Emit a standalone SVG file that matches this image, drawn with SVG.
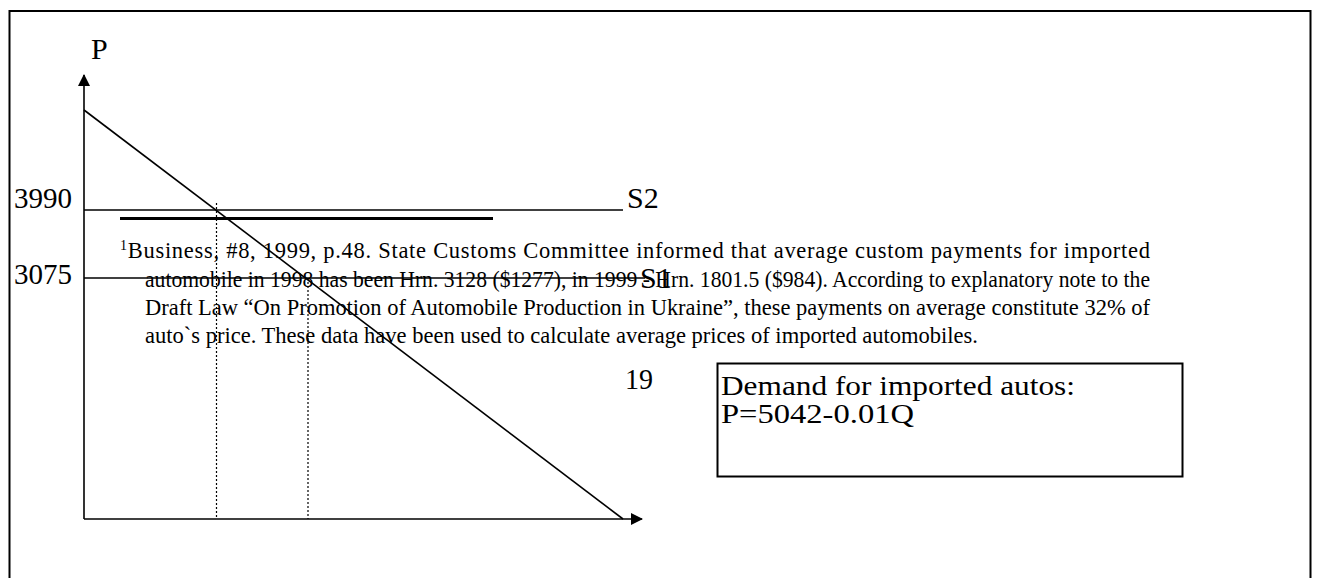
<svg xmlns="http://www.w3.org/2000/svg" width="1317" height="578" viewBox="0 0 1317 578">
<style>
.ln{stroke:#000;stroke-width:1.6;fill:none}
.dot{stroke:#000;stroke-width:1.2;stroke-dasharray:2 2;fill:none}
.lbl{font-family:"Liberation Serif",serif;font-size:30px;fill:#000}
.fn{font-family:"Liberation Serif",serif;font-size:22.5px;fill:#000}
.box{font-family:"Liberation Serif",serif;font-size:28px;fill:#000}
</style>
<defs>
<marker id="arr" viewBox="0 0 12 12" refX="11" refY="6" markerWidth="12" markerHeight="12" markerUnits="userSpaceOnUse" orient="auto"><path d="M0,0 L12,6 L0,12 Z" fill="#000"/></marker>
</defs>
<rect x="0" y="0" width="1317" height="578" fill="#fff"/>
<rect id="frame" x="9.5" y="11" width="1301" height="580" fill="none" stroke="#000" stroke-width="2"/>
<g id="connectors">
<line class="ln" x1="84" y1="519" x2="84" y2="75" marker-end="url(#arr)"/>
<line class="ln" x1="84" y1="519" x2="642" y2="519" marker-end="url(#arr)"/>
<line class="ln" x1="84" y1="110" x2="623" y2="519"/>
<line class="ln" x1="84" y1="210" x2="623" y2="210"/>
<line x1="120" y1="218.5" x2="493" y2="218.5" stroke="#000" stroke-width="3.2"/>
<line class="ln" x1="84" y1="278" x2="645" y2="278"/>
<line class="dot" x1="216.5" y1="203" x2="216.5" y2="519"/>
<line class="dot" x1="308" y1="278" x2="308" y2="519"/>
</g>
<g id="labels">
<text class="lbl" x="91" y="59" font-size="31">P</text>
<text class="lbl" x="14" y="208" textLength="58" lengthAdjust="spacingAndGlyphs">3990</text>
<text class="lbl" x="14" y="284" textLength="58" lengthAdjust="spacingAndGlyphs">3075</text>
<text class="lbl" x="627" y="208" font-size="28">S2</text>
<text class="lbl" x="640" y="288" font-size="28">S1</text>
<text class="lbl" x="625" y="389" font-size="24" textLength="28" lengthAdjust="spacingAndGlyphs">19</text>
</g>
<g id="footnote">
<text class="fn" x="120" y="258" textLength="1030" lengthAdjust="spacing"><tspan font-size="14" dy="-8">1</tspan><tspan dy="8">Business, #8, 1999, p.48. State Customs Committee informed that average custom payments for imported</tspan></text>
<text class="fn" x="145" y="287" textLength="1005" lengthAdjust="spacingAndGlyphs">automobile in 1998 has been Hrn. 3128 ($1277), in 1999 - Hrn. 1801.5 ($984). According to explanatory note to the</text>
<text class="fn" x="145" y="315" textLength="1005" lengthAdjust="spacing">Draft Law “On Promotion of Automobile Production in Ukraine”, these payments on average constitute 32% of</text>
<text class="fn" x="145" y="343" textLength="833" lengthAdjust="spacingAndGlyphs">auto`s price. These data have been used to calculate average prices of imported automobiles.</text>
</g>
<g id="demand-box">
<rect x="717.5" y="363.5" width="465" height="113" fill="none" stroke="#000" stroke-width="2"/>
<text class="box" x="721" y="395" textLength="354" lengthAdjust="spacingAndGlyphs">Demand for imported autos:</text>
<text class="box" x="721" y="423" textLength="193" lengthAdjust="spacingAndGlyphs">P=5042-0.01Q</text>
</g>
</svg>
